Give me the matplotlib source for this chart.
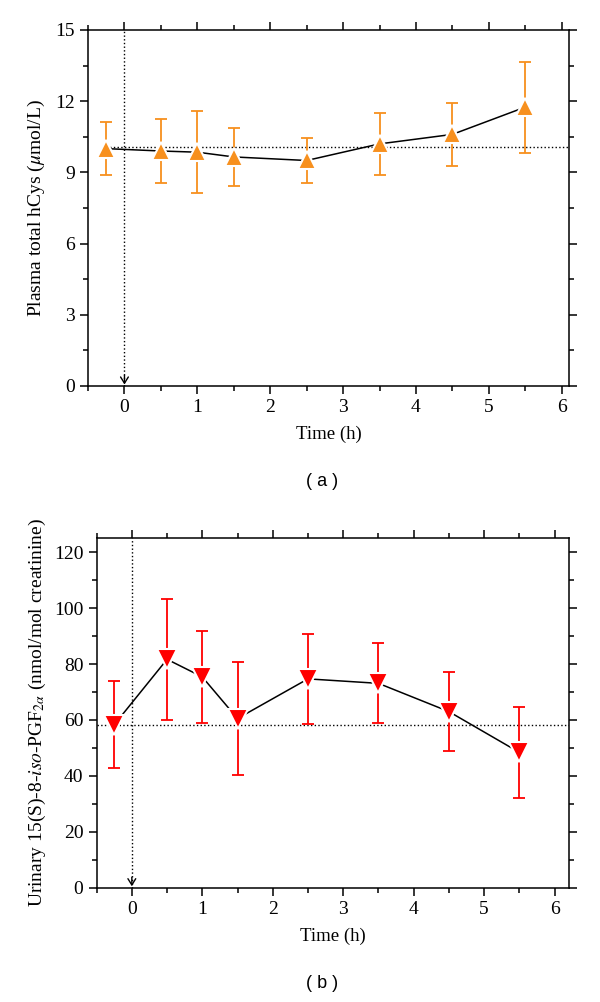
import numpy as np
import matplotlib
matplotlib.use("Agg")
import matplotlib.pyplot as plt
from matplotlib.ticker import MultipleLocator

plt.rcParams['font.family'] = ['Liberation Serif', 'DejaVu Serif']
plt.rcParams['mathtext.fontset'] = 'stix'

# sampling times (h)
times = [-0.25, 0.5, 1.0, 1.5, 2.5, 3.5, 4.5, 5.5]

# panel a: plasma total hCys (umol/L)
hcys_mean = [10.0, 9.9, 9.85, 9.65, 9.5, 10.2, 10.6, 11.75]
hcys_err = [1.12, 1.33, 1.72, 1.22, 0.95, 1.29, 1.33, 1.92]
hcys_baseline = 10.06

# panel b: urinary 15(S)-8-iso-PGF2a (nmol/mol creatinine)
iso_mean = [58.3, 81.7, 75.4, 60.5, 74.7, 73.1, 63.0, 48.4]
iso_err = [15.6, 21.7, 16.4, 20.2, 16.2, 14.3, 14.1, 16.3]
iso_baseline = 58.2

ORANGE = '#F7901E'
RED = '#FF0000'

fig = plt.figure(figsize=(6, 10.02), dpi=100)
ax_a = fig.add_axes([0.1467, 0.6148, 0.8017, 0.3553])
ax_b = fig.add_axes([0.161, 0.1141, 0.7867, 0.3487])


def style_axes(ax, ymax, ymajor, yminor, xmax):
    ax.set_xlim(-0.5, xmax)
    ax.set_ylim(0, ymax)
    ax.xaxis.set_major_locator(MultipleLocator(1))
    ax.xaxis.set_minor_locator(MultipleLocator(0.5))
    ax.yaxis.set_major_locator(MultipleLocator(ymajor))
    ax.yaxis.set_minor_locator(MultipleLocator(yminor))
    ax.tick_params(which='both', direction='out', top=True, right=True,
                   labeltop=False, labelright=False, width=1.1, labelsize=14)
    ax.tick_params(which='major', length=6)
    ax.tick_params(which='minor', length=3.5)
    for s in ax.spines.values():
        s.set_linewidth(1.1)
    ax.set_xlabel('Time (h)', fontsize=13.5, labelpad=7)


def draw_panel(ax, mean, err, baseline, color, marker, ms, ymax, hstart):
    # dosing time marker
    ax.axvline(0, color='k', ls=':', lw=1)
    ax.annotate('', xy=(0, ymax * 0.004), xytext=(0, ymax * 0.03),
                arrowprops=dict(arrowstyle='->,head_length=0.45,head_width=0.28',
                                color='k', lw=1, shrinkA=0, shrinkB=0))
    ax.hlines(baseline, hstart, ax.get_xlim()[1], colors='k', linestyles=':', lw=1)
    ax.plot(times, mean, color='k', lw=1.1, zorder=2)
    ax.errorbar(times, mean, yerr=err, fmt='none', ecolor=color,
                elinewidth=1.3, capsize=4, capthick=1.3, zorder=3)
    ax.plot(times, mean, ls='none', marker=marker, ms=ms, color=color,
            mec='white', mew=1.5, zorder=4)


style_axes(ax_a, 15, 3, 1.5, 6.1)
draw_panel(ax_a, hcys_mean, hcys_err, hcys_baseline, ORANGE, '^', 12.5, 15, -0.25)
ax_a.set_ylabel(r'Plasma total hCys ($\mu$mol/L)', fontsize=14, labelpad=6)

style_axes(ax_b, 125, 20, 10, 6.2)
draw_panel(ax_b, iso_mean, iso_err, iso_baseline, RED, 'v', 15, 125, -0.5)
ax_b.set_ylabel(r'Urinary 15(S)-8-$\it{iso}$-PGF$_{2\alpha}$ (nmol/mol creatinine)',
                fontsize=14, labelpad=4)

fig.text(0.537, 1 - 482 / 1002, '( a )', ha='center', va='center',
         fontsize=13, family='Liberation Sans')
fig.text(0.537, 1 - 983 / 1002, '( b )', ha='center', va='center',
         fontsize=13, family='Liberation Sans')

fig.savefig('out.png', dpi=100)
